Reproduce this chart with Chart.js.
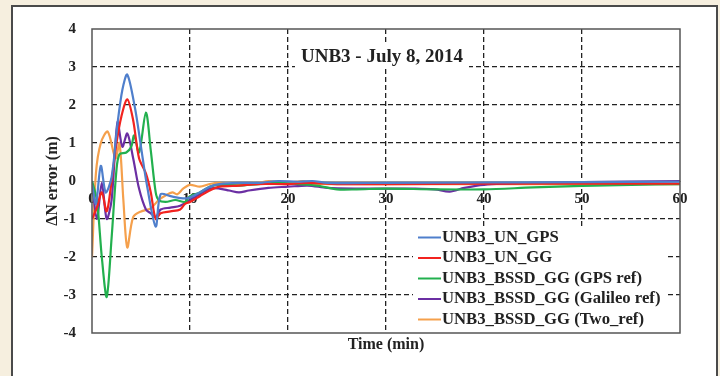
<!DOCTYPE html>
<html>
<head>
<meta charset="utf-8">
<script src="https://cdn.jsdelivr.net/npm/chart.js@4.4.0/dist/chart.umd.min.js"></script>
<style>
  html, body { margin: 0; padding: 0; background: #f6efdf; overflow: hidden; }
  #frame { position: absolute; left: 11px; top: 5px; width: 703px; height: 380px; background: #fff; border: 2px solid #4a4a4a; }
  #myChart { position: absolute; left: 0; top: 0; }
</style>
</head>
<body>
<div id="frame"></div>
<canvas id="myChart" width="720" height="376"></canvas>
<script>
// DATA (time in minutes, north error in metres)
const seriesLabels = ['UNB3_UN_GPS', 'UNB3_UN_GG', 'UNB3_BSSD_GG (GPS ref)', 'UNB3_BSSD_GG (Galileo ref)', 'UNB3_BSSD_GG (Two_ref)'];
const seriesColors = ['#4f7fcc', '#f2231f', '#22b04e', '#6b2fa3', '#f5a04c'];

const gpsT = [0, 0.4, 0.9, 1.4, 2.0, 2.6, 3.1, 3.6, 4.4, 5.0, 5.6, 6.5, 7.0, 8, 9, 9.8, 11, 12, 13, 15, 17, 19, 21, 22.5, 24, 30, 40, 50, 60];
const gpsV = [-0.1, -0.6, 0.4, -0.3, 0.1, 1.5, 2.4, 2.8, 1.9, 0.9, -0.1, -1.2, -0.35, -0.4, -0.45, -0.45, -0.3, -0.15, -0.08, -0.05, -0.05, 0.0, -0.02, 0.0, -0.05, -0.05, -0.04, -0.03, -0.02];

const ggT = [0, 0.5, 1.0, 1.5, 2.0, 2.5, 3.0, 3.6, 4.2, 4.8, 5.5, 6.0, 6.5, 7.0, 8, 9, 9.5, 10, 11, 12, 13, 15, 17, 20, 22, 25, 30, 40, 50, 60];
const ggV = [-1.0, -0.7, -0.3, -0.8, 0.0, 1.0, 1.7, 2.15, 1.6, 0.6, 0.2, -0.3, -1.0, -0.85, -0.8, -0.75, -0.6, -0.55, -0.4, -0.25, -0.15, -0.12, -0.08, -0.08, -0.05, -0.08, -0.08, -0.07, -0.07, -0.07];

const gpsRefT = [0, 0.5, 1.0, 1.5, 2.0, 2.5, 2.8, 3.5, 4.0, 4.3, 4.8, 5.5, 6.0, 6.5, 6.8, 7.5, 8.5, 9.5, 10, 11, 12, 13, 15, 17, 19, 21, 23, 25, 27, 30, 35, 40, 45, 50, 55, 60];
const gpsRefV = [0.0, -0.5, -2.0, -3.05, -1.5, 0.3, 0.7, 0.75, 0.9, 1.2, 0.75, 1.8, 0.8, -0.3, -0.5, -0.55, -0.5, -0.55, -0.4, -0.3, -0.15, -0.1, -0.12, -0.08, -0.05, -0.08, -0.12, -0.22, -0.22, -0.2, -0.22, -0.22, -0.17, -0.13, -0.1, -0.08];

const galRefT = [0, 0.5, 1.0, 1.5, 2.0, 2.6, 3.1, 3.6, 4.2, 4.8, 5.5, 6.0, 6.5, 7.0, 8, 9, 10, 11, 12, 13, 14, 15, 16, 18, 20, 22, 24, 27, 30, 33, 35, 36.5, 38, 40, 45, 50, 60];
const galRefV = [0.0, -1.0, -0.05, -1.0, -0.5, 1.55, 0.9, 1.25, 0.6, -0.2, -0.75, -0.85, -0.95, -0.75, -0.7, -0.65, -0.5, -0.35, -0.2, -0.2, -0.25, -0.3, -0.25, -0.18, -0.15, -0.12, -0.18, -0.2, -0.2, -0.2, -0.22, -0.28, -0.18, -0.1, -0.05, -0.03, 0.0];

const twoRefT = [0, 0.4, 0.9, 1.6, 2.4, 2.8, 3.2, 3.6, 4.2, 5.0, 6.0, 6.8, 7.5, 8.2, 8.7, 9.3, 10, 11, 12, 13, 15, 17, 18, 20, 21.5, 23, 25, 30, 40, 50, 60];
const twoRefV = [-2.0, 0.2, 1.0, 1.3, 0.6, 1.0, -0.5, -1.75, -0.95, -0.8, -0.72, -0.5, -0.38, -0.3, -0.35, -0.2, -0.1, -0.15, -0.08, -0.05, -0.1, -0.05, 0.0, -0.05, 0.0, -0.07, -0.08, -0.08, -0.08, -0.08, -0.08];

const xTicks = [0, 10, 20, 30, 40, 50, 60];
const yTicks = [-4, -3, -2, -1, 0, 1, 2, 3, 4];
const chartTitle = 'UNB3 - July 8, 2014';

const allT = [gpsT, ggT, gpsRefT, galRefT, twoRefT];
const allV = [gpsV, ggV, gpsRefV, galRefV, twoRefV];

const serif = "'Liberation Serif', 'DejaVu Serif', serif";

function toPoints(ts, vs) {
    return ts.map((t, i) => ({ x: t, y: vs[i] }));
}

// draws the plot box, the inner title and the legend
const decorPlugin = {
    id: 'decor',
    afterDatasetsDraw(chart) {
        const { ctx, chartArea: a } = chart;
        ctx.save();
        ctx.strokeStyle = '#555';
        ctx.lineWidth = 1.5;
        ctx.strokeRect(a.left, a.top, a.right - a.left, a.bottom - a.top);

        // title inside plot
        ctx.font = 'bold 19px ' + serif;
        ctx.textAlign = 'center';
        ctx.textBaseline = 'middle';
        const cx = (a.left + a.right) / 2 - 4;
        const w = ctx.measureText(chartTitle).width;
        ctx.fillStyle = '#fff';
        ctx.fillRect(cx - w / 2 - 6, 45, w + 12, 24);
        ctx.fillStyle = '#222';
        ctx.fillText(chartTitle, cx, 57);

        // legend
        ctx.fillStyle = '#fff';
        ctx.fillRect(413, 226, 252, a.bottom - 226 - 1);
        ctx.font = 'bold 16.7px ' + serif;
        ctx.textAlign = 'left';
        chart.data.datasets.forEach((ds, i) => {
            const y = 237.5 + i * 20.5;
            ctx.strokeStyle = ds.borderColor;
            ctx.lineWidth = 2;
            ctx.beginPath();
            ctx.moveTo(418, y);
            ctx.lineTo(441, y);
            ctx.stroke();
            ctx.fillStyle = '#222';
            ctx.fillText(ds.label, 442, y);
        });
        ctx.restore();
    }
};

function gridColor(edge) {
    return (c) => {
        const v = c.tick.value;
        return (v === 0 || v === edge[0] || v === edge[1]) ? 'rgba(0,0,0,0)' : '#222';
    };
}

function initChart() {
    const datasets = seriesLabels.map((label, i) => ({
        label: label,
        data: toPoints(allT[i], allV[i]),
        borderColor: seriesColors[i],
        backgroundColor: seriesColors[i],
        borderWidth: 2.2,
        pointRadius: 0,
        tension: 0.3,
        xAxisID: 'x',
        yAxisID: 'y'
    }));

    const config = {
        type: 'line',
        data: { datasets: datasets },
        options: {
            responsive: false,
            animation: false,
            devicePixelRatio: 1,
            layout: { padding: { left: 43, top: 29, right: 40, bottom: 22 } },
            plugins: { legend: { display: false }, tooltip: { enabled: false } },
            scales: {
                x: {
                    type: 'linear',
                    position: 'bottom',
                    min: xTicks[0],
                    max: xTicks[xTicks.length - 1],
                    afterBuildTicks: (s) => { s.ticks = xTicks.map(v => ({ value: v })); },
                    ticks: { display: false },
                    grid: { color: gridColor([0, 60]), lineWidth: 1.3, drawTicks: false },
                    border: { display: false, dash: [5, 3] },
                    title: { display: true, text: 'Time (min)', color: '#222', padding: 0, font: { family: serif, size: 16, weight: 'bold' } },
                    afterFit: (s) => { s.height = 21; }
                },
                x2: {
                    type: 'linear',
                    axis: 'x',
                    position: { y: 0 },
                    min: xTicks[0],
                    max: xTicks[xTicks.length - 1],
                    afterBuildTicks: (s) => { s.ticks = xTicks.map(v => ({ value: v })); },
                    ticks: { padding: 9, color: '#222', font: { family: serif, size: 15, weight: 'bold' } },
                    grid: { display: false, drawTicks: false },
                    border: { display: true, color: '#9a9a9a', width: 1 }
                },
                y: {
                    min: yTicks[0],
                    max: yTicks[yTicks.length - 1],
                    afterBuildTicks: (s) => { s.ticks = yTicks.map(v => ({ value: v })); },
                    ticks: { padding: 16, color: '#222', font: { family: serif, size: 15, weight: 'bold' } },
                    grid: { color: gridColor([-4, 4]), lineWidth: 1.3, drawTicks: false },
                    border: { display: false, dash: [5, 3] },
                    title: { display: true, text: 'ΔN error (m)', color: '#222', padding: 0, font: { family: serif, size: 16, weight: 'bold' } },
                    afterFit: (s) => { s.width = 49; }
                }
            }
        },
        plugins: [decorPlugin]
    };

    new Chart(document.getElementById('myChart').getContext('2d'), config);
}

if (document.readyState === 'loading') {
    document.addEventListener('DOMContentLoaded', initChart);
} else {
    initChart();
}
</script>
</body>
</html>
